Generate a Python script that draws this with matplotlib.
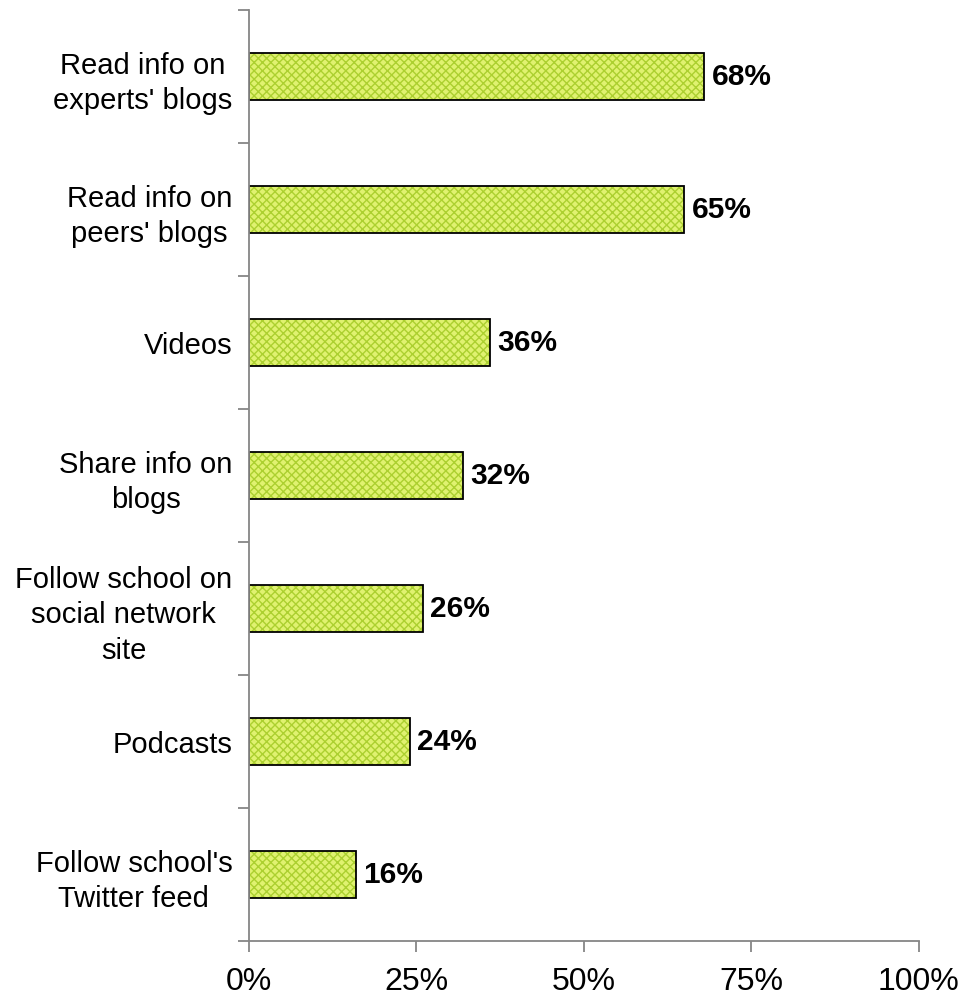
import matplotlib
matplotlib.use("Agg")
import matplotlib.pyplot as plt

plt.rcParams['font.family'] = ['Liberation Sans', 'DejaVu Sans']
plt.rcParams['hatch.linewidth'] = 1.0

categories = [
    "Read info on\nexperts' blogs",
    "Read info on\npeers' blogs",
    "Videos",
    "Share info on\nblogs",
    "Follow school on\nsocial network\nsite",
    "Podcasts",
    "Follow school's\nTwitter feed",
]
values = [68, 65, 36, 32, 26, 24, 16]
x_ticks = [0, 25, 50, 75, 100]

fig = plt.figure(figsize=(9.74, 10.01), dpi=100)
ax = fig.add_axes([0.2556, 0.0599, 0.6875, 0.9301])

pos = list(range(len(categories)))
# fill with crosshatch first, outline drawn on top
ax.barh(pos, values, height=0.36, color='#e0f270', edgecolor='#acd030',
        hatch='xxxx', linewidth=0)
ax.barh(pos, values, height=0.36, color='none', edgecolor='black', linewidth=1.3)

for p, v in zip(pos, values):
    ax.text(v + 1.1, p, f"{v}%", va='center', ha='left',
            fontsize=21.5, fontweight='bold')

ax.set_xlim(0, 100)
ax.set_ylim(len(categories) - 0.5, -0.5)
ax.set_xticks(x_ticks)
ax.set_xticklabels([f"{t}%" for t in x_ticks], fontsize=23)

ax.set_yticks(pos)
ax.set_yticklabels(categories, fontsize=21, linespacing=1.35)
for lbl in ax.get_yticklabels():
    lbl.set_multialignment('center')
ax.tick_params(axis='y', length=0, pad=12)
ax.set_yticks([i - 0.5 for i in range(len(categories) + 1)], minor=True)
ax.tick_params(axis='y', which='minor', length=8, color='#868686', width=1.3)
ax.tick_params(axis='x', length=8, color='#868686', width=1.3, pad=11)

for side in ['top', 'right']:
    ax.spines[side].set_visible(False)
for side in ['left', 'bottom']:
    ax.spines[side].set_color('#868686')
    ax.spines[side].set_linewidth(1.3)

fig.savefig("out.png", dpi=100)
